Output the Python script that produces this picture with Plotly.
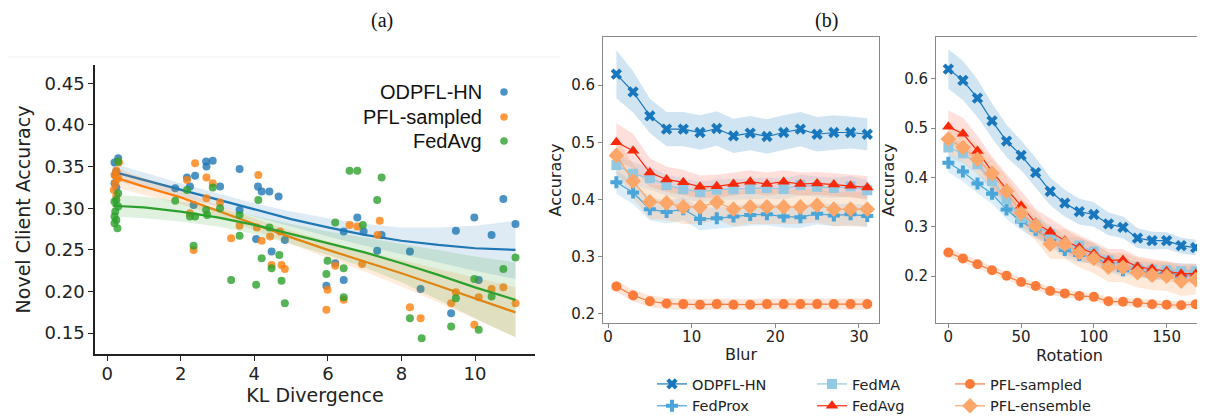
import plotly.graph_objects as go

W, H = 1205, 416

# ---------------- Panel (a): KL divergence vs novel client accuracy ----------------
kl_odpfl = [0.30, 0.20, 0.25, 0.22, 0.20, 0.25, 1.85, 2.17, 2.25, 2.39, 2.35, 2.69, 2.70, 2.87, 3.07,
            3.60, 3.60, 4.10, 4.20, 4.41, 4.66, 4.05, 4.83, 4.47, 5.96, 6.20, 6.43, 6.43, 6.80, 6.97,
            7.46, 7.34, 8.23, 8.52, 9.35, 9.48, 9.98, 10.10, 10.45, 10.77, 11.10]
acc_odpfl = [0.360, 0.355, 0.344, 0.340, 0.330, 0.325, 0.324, 0.337, 0.326, 0.339, 0.304, 0.356, 0.350,
             0.357, 0.326, 0.347, 0.298, 0.326, 0.320, 0.320, 0.314, 0.263, 0.262, 0.248, 0.207, 0.234,
             0.214, 0.272, 0.289, 0.272, 0.268, 0.249, 0.248, 0.203, 0.174, 0.273, 0.289, 0.214, 0.268,
             0.311, 0.281]

kl_pfl = [0.32, 0.25, 0.20, 0.30, 0.22, 0.18, 0.25, 2.17, 2.39, 2.25, 2.35, 2.70, 2.70, 2.87, 3.07,
          3.37, 3.60, 4.11, 4.07, 4.20, 4.43, 4.70, 4.47, 4.74, 4.83, 5.96, 5.99, 6.20, 6.43, 6.59,
          6.80, 6.93, 7.35, 7.41, 8.23, 8.52, 9.35, 9.48, 9.98, 10.10, 10.45, 10.77, 11.10]
acc_pfl = [0.355, 0.345, 0.340, 0.336, 0.330, 0.322, 0.315, 0.334, 0.354, 0.294, 0.250, 0.337, 0.312,
           0.330, 0.307, 0.264, 0.279, 0.340, 0.277, 0.261, 0.266, 0.272, 0.232, 0.232, 0.227, 0.178,
           0.202, 0.231, 0.190, 0.280, 0.278, 0.233, 0.268, 0.285, 0.181, 0.168, 0.186, 0.199, 0.160,
           0.193, 0.203, 0.205, 0.186]

kl_fedavg = [0.30, 0.30, 0.25, 0.20, 0.30, 0.22, 0.20, 0.25, 0.20, 0.28, 1.85, 2.17, 2.25, 2.39, 2.35,
             2.69, 2.72, 2.87, 3.07, 3.37, 3.60, 3.60, 4.11, 4.05, 4.20, 4.41, 4.47, 4.68, 4.74, 4.83,
             5.96, 5.99, 6.20, 6.43, 6.43, 6.59, 6.80, 6.95, 7.34, 7.46, 8.23, 8.55, 9.35, 9.48, 9.98,
             10.10, 10.45, 10.77, 11.10]
acc_fedavg = [0.356, 0.318, 0.310, 0.308, 0.302, 0.296, 0.290, 0.286, 0.282, 0.276, 0.309, 0.322, 0.290,
              0.290, 0.255, 0.298, 0.292, 0.325, 0.300, 0.214, 0.292, 0.267, 0.310, 0.208, 0.240, 0.277,
              0.228, 0.244, 0.213, 0.186, 0.221, 0.237, 0.283, 0.228, 0.193, 0.345, 0.345, 0.280, 0.310,
              0.337, 0.168, 0.144, 0.158, 0.192, 0.215, 0.154, 0.194, 0.227, 0.241]

# regression lines and confidence bands
fit_x = [0.15, 1, 2, 3, 4, 5, 6, 7, 8, 9, 10, 11.1]
fit_odpfl = [0.344, 0.334, 0.322, 0.310, 0.298, 0.287, 0.277, 0.268, 0.261, 0.256, 0.252, 0.250]
ci_odpfl = [0.010, 0.009, 0.008, 0.008, 0.008, 0.009, 0.011, 0.013, 0.016, 0.021, 0.027, 0.035]
fit_pfl = [0.338, 0.326, 0.313, 0.297, 0.281, 0.265, 0.250, 0.236, 0.222, 0.207, 0.192, 0.175]
ci_pfl = [0.012, 0.010, 0.008, 0.007, 0.007, 0.008, 0.010, 0.012, 0.016, 0.020, 0.025, 0.030]
fit_fedavg = [0.303, 0.301, 0.296, 0.289, 0.280, 0.269, 0.258, 0.247, 0.234, 0.220, 0.205, 0.190]
ci_fedavg = [0.013, 0.013, 0.012, 0.011, 0.011, 0.012, 0.014, 0.018, 0.023, 0.030, 0.037, 0.045]

a_names = ["ODPFL-HN", "PFL-sampled", "FedAvg"]
a_colors = ["#1f77b4", "#ff7f0e", "#2ca02c"]
a_fill = ["rgba(31,119,180,0.15)", "rgba(255,127,14,0.15)", "rgba(44,160,44,0.15)"]

# ---------------- Panel (b): Blur / Rotation ----------------
blur_x = [1, 3, 5, 7, 9, 11, 13, 15, 17, 19, 21, 23, 25, 27, 29, 31]
blur_odpfl = [0.619, 0.588, 0.546, 0.523, 0.523, 0.517, 0.524, 0.511, 0.516, 0.510, 0.517, 0.523, 0.514, 0.517, 0.517, 0.514]
blur_fedprox = [0.430, 0.412, 0.383, 0.378, 0.383, 0.366, 0.367, 0.370, 0.373, 0.374, 0.370, 0.369, 0.375, 0.372, 0.374, 0.371]
blur_fedma = [0.460, 0.445, 0.437, 0.425, 0.418, 0.413, 0.417, 0.418, 0.418, 0.420, 0.418, 0.425, 0.422, 0.420, 0.423, 0.416]
blur_fedavg = [0.500, 0.485, 0.447, 0.435, 0.430, 0.422, 0.423, 0.427, 0.431, 0.427, 0.431, 0.427, 0.428, 0.426, 0.424, 0.421]
blur_pfl_sampled = [0.248, 0.232, 0.222, 0.218, 0.217, 0.216, 0.217, 0.216, 0.216, 0.217, 0.217, 0.217, 0.217, 0.217, 0.217, 0.217]
blur_pfl_ensemble = [0.477, 0.432, 0.396, 0.394, 0.387, 0.387, 0.395, 0.383, 0.387, 0.387, 0.387, 0.387, 0.390, 0.383, 0.383, 0.383]

blur_odpfl_sd = [0.042, 0.036, 0.030, 0.030, 0.030, 0.030, 0.030, 0.030, 0.030, 0.030, 0.030, 0.030, 0.030, 0.030, 0.028, 0.028]
blur_fedprox_sd = [0.020, 0.020, 0.020, 0.020, 0.020, 0.020, 0.019, 0.019, 0.019, 0.019, 0.019, 0.019, 0.019, 0.019, 0.019, 0.019]
blur_fedma_sd = [0.020, 0.020, 0.020, 0.018, 0.018, 0.018, 0.018, 0.018, 0.018, 0.018, 0.018, 0.018, 0.018, 0.018, 0.018, 0.018]
blur_fedavg_sd = [0.033, 0.030, 0.025, 0.022, 0.022, 0.020, 0.020, 0.020, 0.020, 0.020, 0.020, 0.020, 0.020, 0.020, 0.020, 0.020]
blur_pfl_sampled_sd = [0.010, 0.010, 0.010, 0.010, 0.010, 0.010, 0.010, 0.010, 0.010, 0.010, 0.010, 0.010, 0.010, 0.010, 0.010, 0.010]
blur_pfl_ensemble_sd = [0.030, 0.030, 0.030, 0.030, 0.030, 0.030, 0.030, 0.030, 0.030, 0.030, 0.030, 0.030, 0.030, 0.030, 0.030, 0.030]

rot_x = [0, 10, 20, 30, 40, 50, 60, 70, 80, 90, 100, 110, 120, 130, 140, 150, 160, 170]
rot_odpfl = [0.620, 0.597, 0.561, 0.515, 0.474, 0.445, 0.410, 0.372, 0.348, 0.331, 0.325, 0.306, 0.299, 0.277, 0.272, 0.272, 0.262, 0.258]
rot_fedprox = [0.430, 0.412, 0.388, 0.367, 0.335, 0.311, 0.294, 0.275, 0.253, 0.243, 0.240, 0.223, 0.212, 0.216, 0.202, 0.209, 0.200, 0.205]
rot_fedma = [0.461, 0.449, 0.427, 0.393, 0.356, 0.318, 0.303, 0.285, 0.264, 0.262, 0.250, 0.232, 0.222, 0.215, 0.213, 0.212, 0.210, 0.210]
rot_fedavg = [0.503, 0.489, 0.454, 0.412, 0.377, 0.343, 0.308, 0.290, 0.272, 0.258, 0.246, 0.232, 0.233, 0.219, 0.215, 0.210, 0.205, 0.205]
rot_pfl_sampled = [0.248, 0.236, 0.224, 0.212, 0.201, 0.188, 0.180, 0.170, 0.165, 0.160, 0.158, 0.149, 0.148, 0.146, 0.143, 0.142, 0.141, 0.143]
rot_pfl_ensemble = [0.478, 0.461, 0.437, 0.408, 0.372, 0.328, 0.302, 0.265, 0.265, 0.248, 0.236, 0.218, 0.218, 0.207, 0.202, 0.200, 0.190, 0.193]

rot_odpfl_sd = [0.040, 0.040, 0.038, 0.035, 0.033, 0.030, 0.030, 0.028, 0.027, 0.026, 0.025, 0.023, 0.022, 0.020, 0.018, 0.017, 0.016, 0.016]
rot_fedprox_sd = [0.020, 0.020, 0.020, 0.020, 0.019, 0.018, 0.017, 0.016, 0.015, 0.015, 0.014, 0.014, 0.013, 0.013, 0.012, 0.012, 0.012, 0.012]
rot_fedma_sd = [0.020, 0.020, 0.020, 0.020, 0.020, 0.019, 0.018, 0.018, 0.017, 0.017, 0.016, 0.016, 0.015, 0.015, 0.015, 0.015, 0.015, 0.015]
rot_fedavg_sd = [0.033, 0.032, 0.031, 0.030, 0.030, 0.030, 0.028, 0.027, 0.026, 0.025, 0.024, 0.023, 0.022, 0.021, 0.020, 0.020, 0.020, 0.020]
rot_pfl_sampled_sd = [0.009, 0.009, 0.009, 0.008, 0.008, 0.008, 0.008, 0.008, 0.008, 0.008, 0.008, 0.008, 0.008, 0.008, 0.008, 0.008, 0.008, 0.008]
rot_pfl_ensemble_sd = [0.030, 0.030, 0.030, 0.030, 0.030, 0.030, 0.030, 0.030, 0.030, 0.030, 0.030, 0.030, 0.030, 0.030, 0.030, 0.030, 0.030, 0.030]

b_names = ["ODPFL-HN", "FedProx", "FedMA", "FedAvg", "PFL-sampled", "PFL-ensemble"]
b_colors = ["#1877bd", "#4aa5da", "#92c8e2", "#f92a0c", "#fb7c3a", "#fda669"]
b_fill = ["rgba(24,119,189,0.20)", "rgba(74,165,218,0.20)", "rgba(146,200,226,0.25)",
          "rgba(249,42,12,0.15)", "rgba(251,124,58,0.20)", "rgba(253,166,105,0.25)"]
b_symbols = ["x", "cross", "square", "triangle-up", "circle", "diamond"]
b_sizes = [10, 10, 10, 11, 10, 12]
b_legend = ["legend", "legend", "legend2", "legend2", "legend3", "legend3"]

blur_means = [blur_odpfl, blur_fedprox, blur_fedma, blur_fedavg, blur_pfl_sampled, blur_pfl_ensemble]
blur_sds = [blur_odpfl_sd, blur_fedprox_sd, blur_fedma_sd, blur_fedavg_sd, blur_pfl_sampled_sd, blur_pfl_ensemble_sd]
rot_means = [rot_odpfl, rot_fedprox, rot_fedma, rot_fedavg, rot_pfl_sampled, rot_pfl_ensemble]
rot_sds = [rot_odpfl_sd, rot_fedprox_sd, rot_fedma_sd, rot_fedavg_sd, rot_pfl_sampled_sd, rot_pfl_ensemble_sd]

# the page body adds an 8 px offset; positions below are given in screen pixels
OFF = 8


def px(x):
    return (x - OFF) / W


def py(y):
    return 1 - (y - OFF) / H


fig = go.Figure()

# ---- panel (a) traces
a_sets = [(kl_odpfl, acc_odpfl, fit_odpfl, ci_odpfl),
          (kl_pfl, acc_pfl, fit_pfl, ci_pfl),
          (kl_fedavg, acc_fedavg, fit_fedavg, ci_fedavg)]
for i, (xs, ys, fy, ci) in enumerate(a_sets):
    fig.add_trace(go.Scatter(x=xs, y=ys, mode="markers", xaxis="x", yaxis="y",
                             marker=dict(size=8, color=a_colors[i], opacity=0.8, line=dict(width=0)),
                             showlegend=False, name=a_names[i]))
    up = [m + c for m, c in zip(fy, ci)]
    lo = [m - c for m, c in zip(fy, ci)]
    fig.add_trace(go.Scatter(x=fit_x + fit_x[::-1], y=up + lo[::-1], fill="toself", mode="lines",
                             line=dict(width=0), fillcolor=a_fill[i], xaxis="x", yaxis="y",
                             showlegend=False, hoverinfo="skip"))
    fig.add_trace(go.Scatter(x=fit_x, y=fy, mode="lines", line=dict(color=a_colors[i], width=2.2),
                             xaxis="x", yaxis="y", showlegend=False, hoverinfo="skip"))

# ---- panel (b) traces
for xs, means, sds, xa, ya, show in [(blur_x, blur_means, blur_sds, "x2", "y2", True),
                                     (rot_x, rot_means, rot_sds, "x3", "y3", False)]:
    for i in range(6):
        up = [m + s for m, s in zip(means[i], sds[i])]
        lo = [m - s for m, s in zip(means[i], sds[i])]
        fig.add_trace(go.Scatter(x=xs + xs[::-1], y=up + lo[::-1], fill="toself", mode="lines",
                                 line=dict(width=0), fillcolor=b_fill[i], xaxis=xa, yaxis=ya,
                                 showlegend=False, hoverinfo="skip"))
    for i in range(6):
        fig.add_trace(go.Scatter(x=xs, y=means[i], mode="lines+markers", name=b_names[i],
                                 line=dict(color=b_colors[i], width=1.2),
                                 marker=dict(symbol=b_symbols[i], size=b_sizes[i], color=b_colors[i],
                                             line=dict(width=0)),
                                 xaxis=xa, yaxis=ya, showlegend=show, legend=b_legend[i]))

tickfont_a = dict(family="DejaVu Sans", size=18, color="#222")
titlefont_a = dict(family="DejaVu Sans", size=19, color="#222")
tickfont_b = dict(family="DejaVu Sans", size=15, color="#222")
titlefont_b = dict(family="DejaVu Sans", size=16, color="#222")

axis_b = dict(showgrid=False, zeroline=False, showline=True, linecolor="#888", linewidth=1,
              mirror=True, ticks="outside", ticklen=4, tickcolor="#888", tickfont=tickfont_b,
              automargin=False)

legend_common = dict(orientation="v", yanchor="top", xanchor="left", bgcolor="rgba(0,0,0,0)",
                     xref="container", yref="container",
                     font=dict(family="DejaVu Sans", size=14.5, color="#222"), itemsizing="trace")

fig.update_layout(
    width=W, height=H, margin=dict(l=0, r=0, t=0, b=0, autoexpand=False),
    paper_bgcolor="white", plot_bgcolor="white",
    xaxis=dict(domain=[px(95), px(535)], range=[-0.33, 11.63], tickvals=[0, 2, 4, 6, 8, 10],
               showgrid=False, zeroline=False, showline=True, linecolor="#222", linewidth=1.6,
               ticks="outside", ticklen=5, tickcolor="#222", tickfont=tickfont_a, automargin=False,
               ticklabelstandoff=-2,
               title=dict(text="KL Divergence", font=titlefont_a, standoff=4), anchor="y"),
    yaxis=dict(domain=[py(354), py(65)], range=[0.125, 0.472],
               tickvals=[0.15, 0.20, 0.25, 0.30, 0.35, 0.40, 0.45], tickformat=".2f",
               showgrid=False, zeroline=False, showline=True, linecolor="#222", linewidth=1.6,
               ticks="outside", ticklen=5, tickcolor="#222", tickfont=tickfont_a, automargin=False,
               title=dict(text="Novel Client Accuracy", font=titlefont_a, standoff=9), anchor="x"),
    xaxis2=dict(axis_b, domain=[px(603), px(879)], range=[-0.6, 32.4], tickvals=[0, 10, 20, 30],
                ticklabelstandoff=-4,
                title=dict(text="Blur", font=titlefont_b, standoff=3), anchor="y2"),
    yaxis2=dict(axis_b, domain=[py(323), py(37)], range=[0.184, 0.684], tickvals=[0.2, 0.3, 0.4, 0.5, 0.6],
                title=dict(text="Accuracy", font=titlefont_b, standoff=5), anchor="x2"),
    xaxis3=dict(axis_b, domain=[px(936), px(1203)], range=[-8.5, 175], tickvals=[0, 50, 100, 150],
                ticklabelstandoff=-4,
                title=dict(text="Rotation", font=titlefont_b, standoff=3), anchor="y3"),
    yaxis3=dict(axis_b, domain=[py(323), py(37)], range=[0.105, 0.685], tickvals=[0.2, 0.3, 0.4, 0.5, 0.6],
                title=dict(text="Accuracy", font=titlefont_b, standoff=5), anchor="x3"),
    legend=dict(legend_common, x=px(652), y=py(368)),
    legend2=dict(legend_common, x=px(812), y=py(368)),
    legend3=dict(legend_common, x=px(950), y=py(368)),
)

# panel labels
fig.add_annotation(text="(a)", x=px(382), y=py(20), xref="paper", yref="paper", showarrow=False,
                   xanchor="center", yanchor="middle", borderpad=0,
                   font=dict(family="Liberation Serif", size=20, color="#111"))
fig.add_annotation(text="(b)", x=px(826), y=py(20), xref="paper", yref="paper", showarrow=False,
                   xanchor="center", yanchor="middle", borderpad=0,
                   font=dict(family="Liberation Serif", size=20, color="#111"))

# panel (a) legend: labels right-aligned with marker at right
leg_rows = [92, 117, 141]
for i in range(3):
    fig.add_annotation(text=a_names[i], x=px(484), y=py(leg_rows[i]), xref="paper", yref="paper",
                       xanchor="right", yanchor="middle", showarrow=False,
                       font=dict(family="Liberation Sans", size=20, color="#111"))
    fig.add_shape(type="circle", xref="paper", yref="paper", xsizemode="pixel", ysizemode="pixel",
                  xanchor=px(504), yanchor=py(leg_rows[i]), x0=-3.8, x1=3.8, y0=-3.8, y1=3.8,
                  fillcolor=a_colors[i], opacity=0.8, line=dict(width=0))

# faint frame line on top of panel (a)
fig.add_shape(type="line", xref="paper", yref="paper", x0=0, x1=px(560), y0=py(57), y1=py(57),
              line=dict(color="#efefef", width=1))

fig.write_html("out.html")
